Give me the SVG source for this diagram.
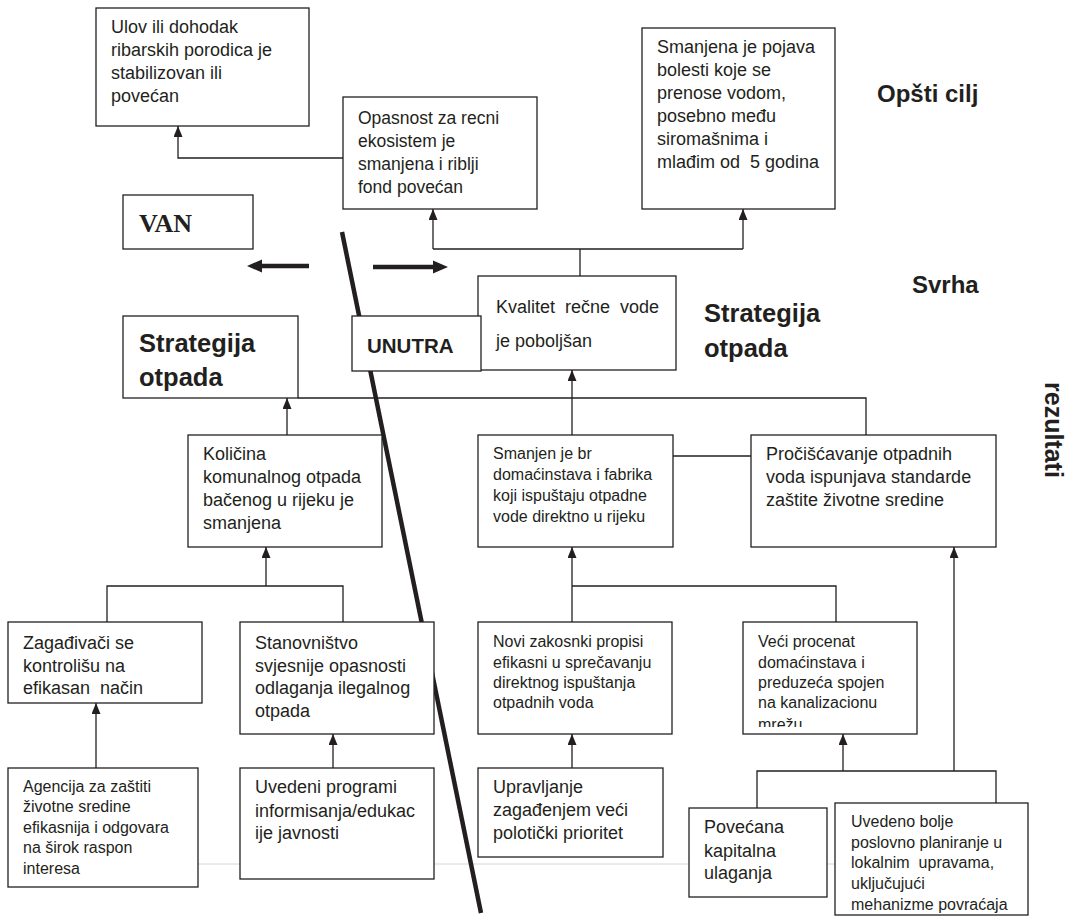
<svg xmlns="http://www.w3.org/2000/svg" width="1071" height="920" viewBox="0 0 1071 920">
<style>
.box{fill:#fff;stroke:#231f20;stroke-width:1.3}
.t{font-family:"Liberation Sans",Arial,sans-serif;fill:#231f20;white-space:pre}
.s16{font-size:16px}
.s18{font-size:18px}
.b{font-weight:bold}
.c{fill:none;stroke:#231f20;stroke-width:1.3}
.a{fill:none;stroke:#231f20;stroke-width:1.3;marker-end:url(#ah)}
.thick{stroke:#231f20;stroke-width:4.5;fill:none}
</style>
<defs>
<marker id="ah" markerUnits="userSpaceOnUse" markerWidth="12" markerHeight="10" refX="11" refY="4.5" orient="auto">
<path d="M0,0 L11,4.5 L0,9 z" fill="#231f20"/>
</marker>
<clipPath id="clipVeci"><rect x="743" y="622" width="174" height="105"/></clipPath>
</defs>
<rect width="1071" height="920" fill="#fff"/>

<g id="background-lines">
<line x1="198" y1="864" x2="835" y2="864" stroke="#d6d6d6" stroke-width="1"/>
<line class="thick" x1="342" y1="232" x2="481" y2="913"/>
<line class="thick" x1="309" y1="266" x2="258" y2="266"/>
<polygon points="247,266 262,259.5 262,272.5" fill="#231f20"/>
<line class="thick" x1="373" y1="267" x2="436" y2="267"/>
<polygon points="448,267 433,260.5 433,273.5" fill="#231f20"/>
</g>

<g id="connectors">
<path class="a" d="M343,158 H178 V126"/>
<path class="c" d="M580,276 V249 M433,249 H743"/>
<path class="a" d="M433,249 V209"/>
<path class="a" d="M743,249 V209"/>
<path class="a" d="M572,435 V370"/>
<path class="c" d="M298,398 H866 V435"/>
<path class="a" d="M287,435 V398"/>
<path class="c" d="M673,456 H751"/>
<path class="a" d="M266,586 V547"/>
<path class="c" d="M107,622 V586 H343 V622"/>
<path class="a" d="M96,768 V703"/>
<path class="a" d="M333,768 V734"/>
<path class="a" d="M572,622 V547"/>
<path class="c" d="M572,586 H836 V622"/>
<path class="a" d="M572,768 V734"/>
<path class="a" d="M843,771 V734"/>
<path class="c" d="M757,808 V771 H996 V803"/>
<path class="a" d="M954,771 V547"/>
</g>

<g id="ulov">
<rect class="box" x="96" y="8" width="213" height="118"/>
<text class="t s18"><tspan x="111" y="33">Ulov ili dohodak</tspan><tspan x="111" y="56">ribarskih porodica je</tspan><tspan x="111" y="79">stabilizovan ili</tspan><tspan x="111" y="102">povećan</tspan></text>
</g>

<g id="opasnost">
<rect class="box" x="343" y="97" width="194" height="112"/>
<text class="t" style="font-size:17.5px"><tspan x="358" y="124">Opasnost za recni</tspan><tspan x="358" y="147">ekosistem je</tspan><tspan x="358" y="170">smanjena i riblji</tspan><tspan x="358" y="193">fond povećan</tspan></text>
</g>

<g id="smanjena-bolesti">
<rect class="box" x="642" y="28" width="193" height="181"/>
<text class="t s18"><tspan x="657" y="53">Smanjena je pojava</tspan><tspan x="657" y="76">bolesti koje se</tspan><tspan x="657" y="99">prenose vodom,</tspan><tspan x="657" y="122">posebno među</tspan><tspan x="657" y="145">siromašnima i</tspan><tspan x="657" y="168">mlađim od  5 godina</tspan></text>
</g>

<g id="opsti-cilj">
<text class="t b" x="877" y="102" style="font-size:24px">Opšti cilj</text>
</g>

<g id="van">
<rect class="box" x="123" y="195" width="130" height="54"/>
<text x="139" y="232" style="font-family:'Liberation Serif','Times New Roman',serif;font-weight:bold;font-size:26px;fill:#231f20">VAN</text>
</g>

<g id="svrha">
<text class="t b" x="912" y="293" style="font-size:24px">Svrha</text>
</g>

<g id="kvalitet">
<rect class="box" x="478" y="276" width="198" height="94"/>
<text class="t s18"><tspan x="496" y="313">Kvalitet  rečne  vode</tspan><tspan x="496" y="347">je poboljšan</tspan></text>
</g>

<g id="unutra">
<rect class="box" x="352" y="316" width="129" height="55"/>
<text class="t b" x="367" y="353" style="font-size:20.5px">UNUTRA</text>
</g>

<g id="strategija-desno">
<text class="t b" style="font-size:25.5px"><tspan x="704" y="322">Strategija</tspan><tspan x="704" y="357">otpada</tspan></text>
</g>

<g id="strategija-lijevo">
<rect class="box" x="123" y="316" width="175" height="82"/>
<text class="t b" style="font-size:25.5px"><tspan x="139" y="352">Strategija</tspan><tspan x="139" y="386">otpada</tspan></text>
</g>

<g id="rezultati">
<text class="t b" transform="translate(1045,382) rotate(90)" x="0" y="0" style="font-size:25px">rezultati</text>
</g>

<g id="kolicina">
<rect class="box" x="188" y="435" width="194" height="112"/>
<text class="t s18"><tspan x="203" y="460">Količina</tspan><tspan x="203" y="483">komunalnog otpada</tspan><tspan x="203" y="506">bačenog u rijeku je</tspan><tspan x="203" y="529">smanjena</tspan></text>
</g>

<g id="smanjen-br">
<rect class="box" x="478" y="435" width="195" height="112"/>
<text class="t s16"><tspan x="493" y="459">Smanjen je br</tspan><tspan x="493" y="480">domaćinstava i fabrika</tspan><tspan x="493" y="501">koji ispuštaju otpadne</tspan><tspan x="493" y="522">vode direktno u rijeku</tspan></text>
</g>

<g id="preciscavanje">
<rect class="box" x="751" y="435" width="245" height="112"/>
<text class="t s18"><tspan x="766" y="460">Pročišćavanje otpadnih</tspan><tspan x="766" y="483">voda ispunjava standarde</tspan><tspan x="766" y="506">zaštite životne sredine</tspan></text>
</g>

<g id="zagadjivaci">
<rect class="box" x="8" y="622" width="194" height="81"/>
<text class="t s18"><tspan x="23" y="649">Zagađivači se</tspan><tspan x="23" y="672">kontrolišu na</tspan><tspan x="23" y="694">efikasan  način</tspan></text>
</g>

<g id="stanovnistvo">
<rect class="box" x="240" y="622" width="194" height="112"/>
<text class="t s18"><tspan x="255" y="649">Stanovništvo</tspan><tspan x="255" y="672">svjesnije opasnosti</tspan><tspan x="255" y="694">odlaganja ilegalnog</tspan><tspan x="255" y="717">otpada</tspan></text>
</g>

<g id="novi-propisi">
<rect class="box" x="478" y="622" width="194" height="112"/>
<text class="t s16"><tspan x="493" y="647">Novi zakosnki propisi</tspan><tspan x="493" y="668">efikasni u sprečavanju</tspan><tspan x="493" y="688">direktnog ispuštanja</tspan><tspan x="493" y="708">otpadnih voda</tspan></text>
</g>

<g id="veci-procenat">
<rect class="box" x="743" y="622" width="174" height="112"/>
<text class="t s16" clip-path="url(#clipVeci)"><tspan x="758" y="647">Veći procenat</tspan><tspan x="758" y="668">domaćinstava i</tspan><tspan x="758" y="688">preduzeća spojen</tspan><tspan x="758" y="708">na kanalizacionu</tspan><tspan x="758" y="730">mrežu</tspan></text>
</g>

<g id="agencija">
<rect class="box" x="8" y="768" width="190" height="119"/>
<text class="t s16"><tspan x="23" y="792">Agencija za zaštiti</tspan><tspan x="23" y="812">životne sredine</tspan><tspan x="23" y="833">efikasnija i odgovara</tspan><tspan x="23" y="853">na širok raspon</tspan><tspan x="23" y="874">interesa</tspan></text>
</g>

<g id="uvedeni-programi">
<rect class="box" x="240" y="768" width="194" height="111"/>
<text class="t s18"><tspan x="255" y="793">Uvedeni programi</tspan><tspan x="255" y="817">informisanja/edukac</tspan><tspan x="255" y="839">ije javnosti</tspan></text>
</g>

<g id="upravljanje">
<rect class="box" x="478" y="768" width="185" height="89"/>
<text class="t s18"><tspan x="493" y="793">Upravljanje</tspan><tspan x="493" y="816">zagađenjem veći</tspan><tspan x="493" y="839">polotički prioritet</tspan></text>
</g>

<g id="povecana">
<rect class="box" x="689" y="808" width="138" height="89"/>
<text class="t s18"><tspan x="704" y="833">Povećana</tspan><tspan x="704" y="857">kapitalna</tspan><tspan x="704" y="879">ulaganja</tspan></text>
</g>

<g id="uvedeno-planiranje">
<rect class="box" x="835" y="803" width="193" height="112"/>
<text class="t s16"><tspan x="851" y="827">Uvedeno bolje</tspan><tspan x="851" y="848">poslovno planiranje u</tspan><tspan x="851" y="868">lokalnim  upravama,</tspan><tspan x="851" y="889">uključujući</tspan><tspan x="851" y="910">mehanizme povraćaja</tspan></text>
</g>
</svg>
